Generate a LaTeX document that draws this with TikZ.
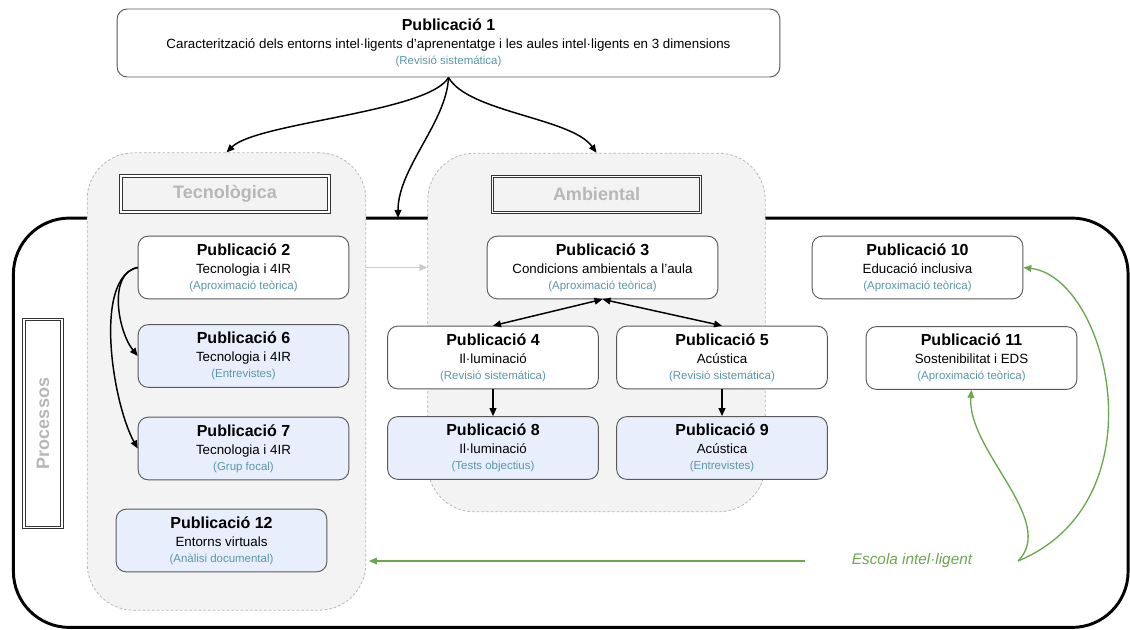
\documentclass[tikz,border=0pt]{standalone}
\usepackage{fontspec}
\setmainfont{Liberation Sans}
\usepackage{tikz}
\usetikzlibrary{arrows.meta,positioning}
\usepackage{xcolor}
\definecolor{groupfill}{HTML}{F3F3F3}
\definecolor{dashgray}{HTML}{B7B7B7}
\definecolor{headgray}{HTML}{B7B7B7}
\definecolor{paleblue}{HTML}{E8EEFB}
\definecolor{methodblue}{HTML}{5B97AA}
\definecolor{schoolgreen}{HTML}{6AA84F}
\definecolor{edgegray}{HTML}{595959}
\newcommand{\pubtext}[3]{{\fontsize{12}{14}\selectfont\bfseries #1}\\[1.5pt]#2\\{\fontsize{8.6}{10}\selectfont\color{methodblue}#3}}

\begin{document}
\begin{tikzpicture}[x=0.75pt, y=-0.75pt,
  pub/.style={draw=edgegray, line width=0.7pt, rounded corners=7.5pt, fill=white, minimum width=158pt, minimum height=47pt, align=center, inner sep=1pt, font=\fontsize{10}{12}\selectfont},
  pubblue/.style={pub, fill=paleblue},
  group/.style={draw=dashgray, dash pattern=on 2pt off 1.5pt, line width=0.6pt, fill=groupfill, rounded corners=35pt},
  header/.style={draw=black!80, double=white, double distance=1.3pt, line width=0.8pt, minimum width=156pt, minimum height=27pt, text=headgray, font=\fontsize{13.5}{16}\selectfont\bfseries},
  link/.style={-{Triangle[length=6pt,width=5pt]}, line width=1.1pt},
  twoway/.style={{Triangle[length=6pt,width=5pt]}-{Triangle[length=6pt,width=5pt]}, line width=1.1pt},
  greenlink/.style={-{Triangle[length=6pt,width=5pt]}, line width=1pt, schoolgreen}
]
\useasboundingbox (0,0) rectangle (1130,630);

\node[draw, line width=2.2pt, rounded corners=42pt, minimum width=836pt, minimum height=307pt] (outer) at (570.75,422.75) {};
\node[group, minimum width=209pt, minimum height=343pt] (tecno) at (226.5,381.5) {};
\node[group, minimum width=253pt, minimum height=269pt] (ambient) at (596.5,332.5) {};

\node[header] (tecnohead) at (225,194) {Tecnològica};
\node[header] (ambienthead) at (596.5,194.5) {Ambiental};
\node[header, rotate=90, minimum height=28pt] (prochead) at (43,423.5) {Processos};

\node[pub, minimum width=497pt, minimum height=51pt] (p1) at (448.5,43) {\pubtext{Publicació 1}{Caracterització dels entorns intel·ligents d’aprenentatge i les aules intel·ligents en 3 dimensions}{(Revisió sistemática)}};

\node[pub] (p2) at (243.5,267.5) {\pubtext{Publicació 2}{Tecnologia i 4IR}{(Aproximació teòrica)}};
\node[pubblue] (p6) at (243.5,356) {\pubtext{Publicació 6}{Tecnologia i 4IR}{(Entrevistes)}};
\node[pubblue] (p7) at (243.5,448.5) {\pubtext{Publicació 7}{Tecnologia i 4IR}{(Grup focal)}};
\node[pubblue] (p12) at (221.5,540.5) {\pubtext{Publicació 12}{Entorns virtuals}{(Anàlisi documental)}};

\node[pub, minimum width=173pt] (p3) at (602.5,267.5) {\pubtext{Publicació 3}{Condicions ambientals a l’aula}{(Aproximació teòrica)}};
\node[pub] (p4) at (493,357.5) {\pubtext{Publicació 4}{Il·luminació}{(Revisió sistemática)}};
\node[pub] (p5) at (722,357.5) {\pubtext{Publicació 5}{Acústica}{(Revisió sistemática)}};
\node[pubblue] (p8) at (493,448) {\pubtext{Publicació 8}{Il·luminació}{(Tests objectius)}};
\node[pubblue] (p9) at (722,448) {\pubtext{Publicació 9}{Acústica}{(Entrevistes)}};

\node[pub] (p10) at (917.5,267.5) {\pubtext{Publicació 10}{Educació inclusiva}{(Aproximació teòrica)}};
\node[pub] (p11) at (971.5,358) {\pubtext{Publicació 11}{Sostenibilitat i EDS}{(Aproximació teòrica)}};

\node[text=schoolgreen, font=\fontsize{11.5}{13}\selectfont\itshape] (escola) at (912,561) {Escola intel·ligent};
\coordinate (procin) at (398,218);
\coordinate (greenstart) at (805,561);
\coordinate (fork) at (1018,561);

\draw[link] (p1.south) .. controls +(-20,35) and +(30,-30) .. (tecno.north);
\draw[link] (p1.south) .. controls +(-2,45) and +(0,-50) .. (procin);
\draw[link] (p1.south) .. controls +(20,35) and +(-25,-35) .. (ambient.north);

\draw[-{Triangle[length=6pt,width=5pt]}, line width=0.9pt, black!20] (p2.east -| tecno.east) -- (p2.east -| ambient.west);
\draw[link] (p2.west) .. controls +(-30,5) and +(-20,-25) .. (p6.west);
\draw[link] (p2.west) .. controls +(-45,10) and +(-25,-45) .. (p7.west);

\draw[twoway] (p3.south) -- (p4.north);
\draw[twoway] (p3.south) -- (p5.north);
\draw[link] (p4.south) -- (p8.north);
\draw[link] (p5.south) -- (p9.north);

\draw[greenlink, shorten >=2pt] (greenstart) -- (tecno.east |- greenstart);
\draw[greenlink] (fork) .. controls +(145,-60) and +(85,10) .. (p10.east);
\draw[greenlink] (fork) .. controls +(40,-40) and +(-5,60) .. (p11.south);
\end{tikzpicture}
\end{document}
